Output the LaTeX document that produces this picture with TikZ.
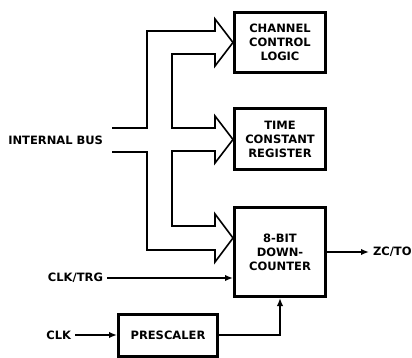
\documentclass[tikz,border=0pt]{standalone}
\usepackage{fontspec}
\setmainfont{DejaVu Sans}
\usetikzlibrary{arrows.meta,positioning,calc}

\begin{document}
\begin{tikzpicture}[x=1pt,y=-1pt,
  every node/.style={font=\fontsize{11.5}{14}\selectfont\bfseries},
  blk/.style={draw,line width=3pt,align=center,inner sep=0pt},
  lbl/.style={inner sep=0pt,outer xsep=4pt},
  bus/.style={line width=1.6pt,line join=miter},
  sig/.style={line width=1.6pt,-{Latex[length=8pt,width=6.5pt]}}]
\useasboundingbox (0,0) rectangle (412,358);
\node[blk,minimum width=91pt,minimum height=60pt] (ccl) at (280,42.5) {CHANNEL\\CONTROL\\LOGIC};
\node[blk,minimum width=91pt,minimum height=61pt] (tcr) at (280,139.5) {TIME\\CONSTANT\\REGISTER};
\node[blk,minimum width=91pt,minimum height=89pt] (counter) at (280,252) {8-BIT\\DOWN-\\COUNTER};
\node[blk,minimum width=99pt,minimum height=42pt] (prescaler) at (168,335) {PRESCALER};
\node[lbl,anchor=east] (bus) at (107,140) {INTERNAL BUS};
\node[lbl,anchor=east] (clktrg) at (107,278) {CLK/TRG};
\node[lbl,anchor=east] (clk) at (75,335) {CLK};
\node[lbl,anchor=west] (zcto) at (369,252) {ZC/TO};
\draw[bus] ($(bus.east)+(5,-12)$) -| (147,31) -- (215,31) -- (215,19) -- (ccl.west)
  -- (215,66) -- (215,54) -| (172,128) -- (215,128) -- (215,116) -- (tcr.west)
  -- (215,163) -- (215,151) -| (172,226) -- (215,226) -- (215,214) -- ($(counter.west)+(0,-14)$)
  -- (215,262) -- (215,250) -| (147,152) -- ($(bus.east)+(5,12)$);
\draw[sig] (clktrg.east) -- (clktrg.east -| counter.west);
\draw[sig] (clk.east) -- (prescaler.west);
\draw[sig] (prescaler.east) -| (counter.south);
\draw[sig] (counter.east) -- (zcto.west);
\end{tikzpicture}
\end{document}
